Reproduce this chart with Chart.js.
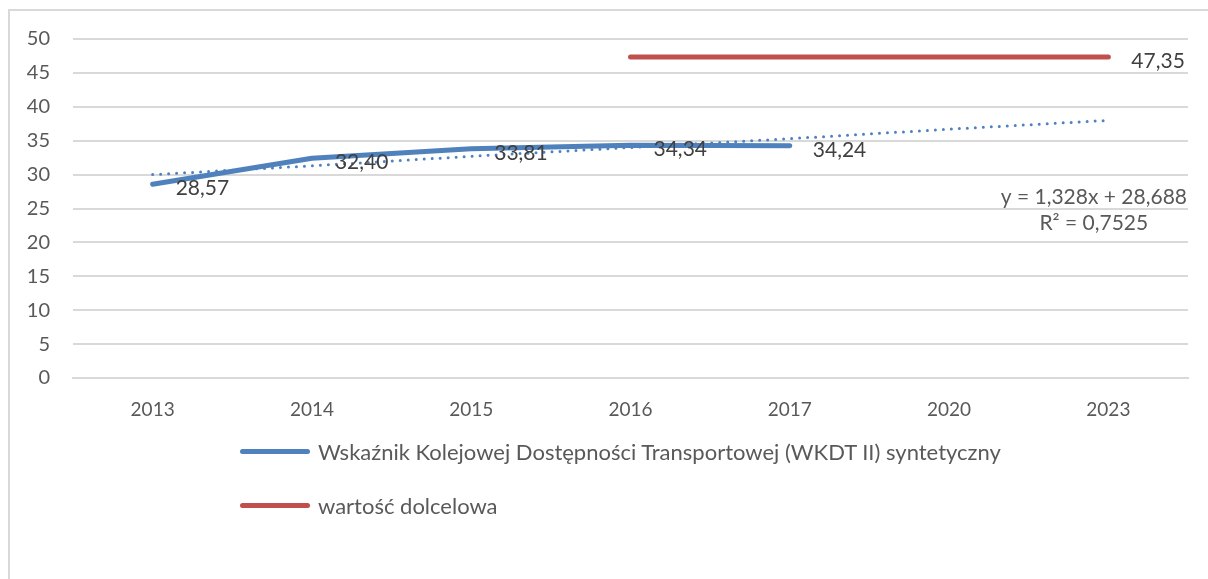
<!DOCTYPE html>
<html>
<head>
<meta charset="utf-8">
<script src="https://cdn.jsdelivr.net/npm/chart.js@4/dist/chart.umd.min.js"></script>
<style>
  html, body { margin: 0; padding: 0; background: #fff; }
  #wrap { position: relative; width: 1208px; height: 579px; overflow: hidden; }
  #frame { position: absolute; left: 8px; top: 9px; width: 1300px; height: 700px;
           border-left: 2px solid #D9D9D9; border-top: 2px solid #D9D9D9; }
  canvas { position: absolute; left: 0; top: 0; }
  .leg { position: absolute; left: 240px; font: 22px Lato, "Noto Sans", sans-serif; color: #595959;
         display: flex; align-items: center; white-space: nowrap; height: 24px; }
  .leg span.ln { display: inline-block; width: 70px; height: 5px; border-radius: 3px; margin-right: 8px; }
</style>
</head>
<body>
<div id="wrap">
  <div id="frame"></div>
  <canvas id="myChart" width="1208" height="579"></canvas>
  <div class="leg" style="top:439px"><span class="ln" style="background:#4F81BD"></span>Wskaźnik Kolejowej Dostępności Transportowej (WKDT II) syntetyczny</div>
  <div class="leg" style="top:493px"><span class="ln" style="background:#C0504D"></span>wartość dolcelowa</div>
</div>
<script>
    'use strict';
    var years = ['2013','2014','2015','2016','2017','2020','2023'];
    var wkdt = [28.57, 32.40, 33.81, 34.34, 34.24, null, null];
    var target = [null, null, null, 47.35, 47.35, 47.35, 47.35];
    // trend line (y = 1,328x + 28,688)
    var trend = [30.0, 31.3, 32.7, 34.0, 35.3, 36.7, 38.0];
    var yTicks = [0, 5, 10, 15, 20, 25, 30, 35, 40, 45, 50];
    var trendText = ['y = 1,328x + 28,688', 'R² = 0,7525'];

    var fontFam = 'Lato, "Noto Sans", sans-serif';

    function fmt(v){
        return v.toFixed(2).replace('.', ',');
    }

    var labelPlugin = {
        id: 'valueLabels',
        afterDatasetsDraw: function(chart){
            var ctx = chart.ctx;
            ctx.save();
            ctx.font = '21px ' + fontFam;
            ctx.fillStyle = '#404040';
            ctx.textAlign = 'left';
            ctx.textBaseline = 'middle';
            [0, 1].forEach(function(di){
                var meta = chart.getDatasetMeta(di);
                var data = chart.data.datasets[di].data;
                meta.data.forEach(function(pt, i){
                    if (data[i] == null) return;
                    if (di === 1 && i !== data.length - 1) return;
                    ctx.fillText(fmt(data[i]), pt.x + 23, pt.y + 4);
                });
            });
            // trend equation, second line centred under the first
            var area = chart.chartArea;
            var ys = chart.scales.y;
            ctx.fillStyle = '#595959';
            ctx.textAlign = 'center';
            var w = ctx.measureText(trendText[0]).width;
            var cx = area.right - 1 - w / 2;
            ctx.fillText(trendText[0], cx, ys.getPixelForValue(26.6));
            ctx.fillText(trendText[1], cx, ys.getPixelForValue(22.8));
            ctx.restore();
        }
    };

    new Chart(document.getElementById('myChart'), {
        type: 'line',
        data: {
            labels: years,
            datasets: [{
                label: 'Wskaźnik Kolejowej Dostępności Transportowej (WKDT II) syntetyczny',
                data: wkdt,
                borderColor: '#4F81BD',
                borderWidth: 5,
                borderCapStyle: 'round',
                borderJoinStyle: 'round',
                pointRadius: 0,
                fill: false,
                spanGaps: false,
                order: 1
            }, {
                label: 'wartość dolcelowa',
                data: target,
                borderColor: '#C0504D',
                borderWidth: 5,
                borderCapStyle: 'round',
                pointRadius: 0,
                fill: false,
                order: 2
            }, {
                label: 'trend',
                data: trend,
                borderColor: '#4F81BD',
                borderWidth: 3,
                borderCapStyle: 'round',
                borderDash: [0, 8],
                pointRadius: 0,
                fill: false,
                order: 0
            }]
        },
        options: {
            responsive: false,
            animation: false,
            layout: { padding: { top: 39, right: 20, left: 0, bottom: 0 } },
            plugins: {
                legend: { display: false },
                tooltip: { enabled: false }
            },
            scales: {
                x: {
                    offset: true,
                    grid: { display: false, drawTicks: false },
                    border: { color: '#D9D9D9', width: 2 },
                    ticks: { color: '#595959', font: { family: fontFam, size: 19 }, padding: 20, maxRotation: 0 },
                    afterFit: function(s){ s.height = 201; }
                },
                y: {
                    min: 0,
                    max: 50,
                    afterBuildTicks: function(s){ s.ticks = yTicks.map(function(v){ return { value: v }; }); },
                    grid: { color: '#D9D9D9', lineWidth: 2, drawTicks: false },
                    border: { display: false },
                    ticks: { color: '#595959', font: { family: fontFam, size: 20 }, padding: 23 },
                    afterFit: function(s){ s.width = 73; }
                }
            }
        },
        plugins: [labelPlugin]
    });
</script>
</body>
</html>
